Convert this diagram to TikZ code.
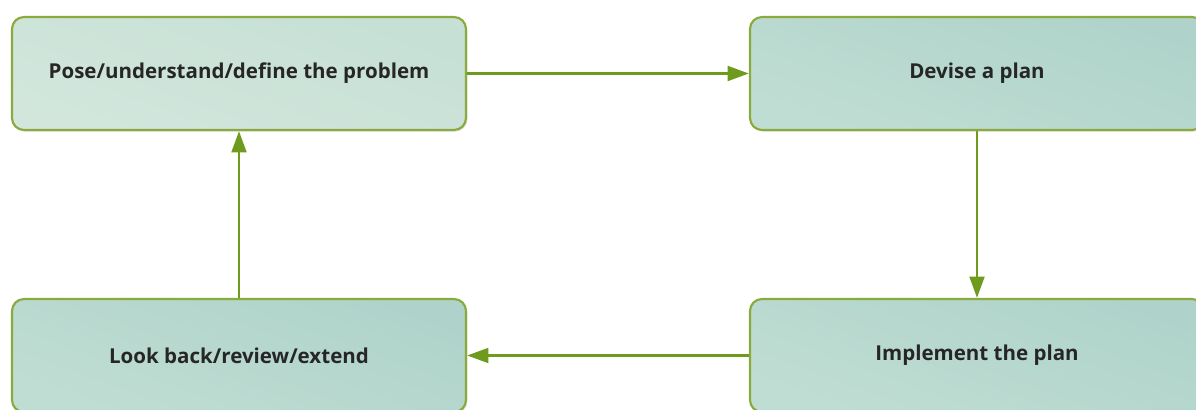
\documentclass[tikz,border=0pt]{standalone}
\usepackage{fontspec}
\setmainfont{Open Sans}
\usetikzlibrary{arrows.meta,shadows}
\definecolor{edgegreen}{HTML}{8AAA3C}
\definecolor{arrowgreen}{HTML}{6E9A1E}
\definecolor{fillA}{HTML}{C6E0D5}
\definecolor{fillB}{HTML}{D2E6DC}
\definecolor{fillC}{HTML}{AFD3CA}
\definecolor{fillD}{HTML}{C0DDD3}
\tikzset{
  stepbox/.style={draw=edgegreen, line width=1.6pt, rounded corners=9pt,
    minimum width=340.5pt, minimum height=84.75pt, inner sep=0pt,
    drop shadow={shadow xshift=1pt, shadow yshift=-1.2pt, opacity=0.25},
    font=\bfseries\fontsize{15.4}{18}\selectfont\color{black!85}},
  lightbox/.style={stepbox, top color=fillA, bottom color=fillB, shading angle=-20},
  darkbox/.style={stepbox, top color=fillC, bottom color=fillD, shading angle=-20},
  flow/.style={draw=arrowgreen, line width=2.2pt,
    -{Triangle[length=16pt,width=11pt]}}
}
\begin{document}
\begin{tikzpicture}[x=0.75pt,y=-0.75pt]
\useasboundingbox (0,0) rectangle (1196,410);
\clip (0,0) rectangle (1196,410);
\node[lightbox] (pose) at (239,73.5) {Pose/understand/define the problem};
\node[darkbox] (devise) at (977,73.5) {Devise a plan};
\node[darkbox] (impl) at (977,355.5) {Implement the plan};
\node[darkbox] (look) at (239,355.5) {Look back/review/extend};
\draw[flow] (pose.east) -- (devise.west);
\draw[flow] (devise.south) -- (impl.north);
\draw[flow] (impl.west) -- (look.east);
\draw[flow] (look.north) -- (pose.south);
\end{tikzpicture}
\end{document}
